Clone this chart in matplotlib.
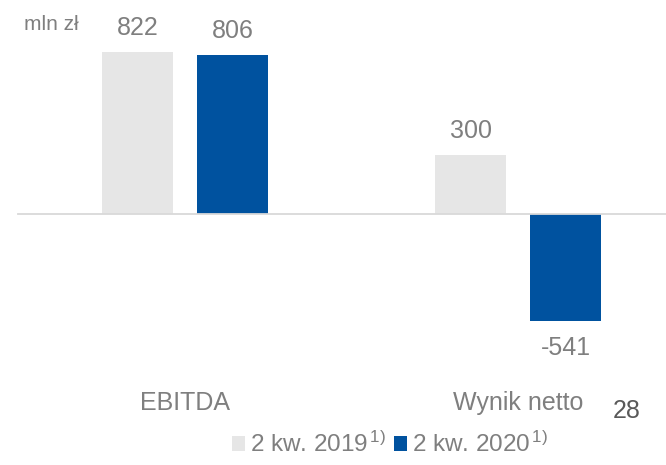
import matplotlib.pyplot as plt
import matplotlib.transforms as mtransforms
import numpy as np

# data (mln zł)
categories = ['EBITDA', 'Wynik netto']
q2_2019 = [822, 300]
q2_2020 = [806, -541]
series_labels = ['2 kw. 2019$^{\\mathrm{\\,1)}}$', '2 kw. 2020$^{\\mathrm{\\,1)}}$']
page_no = '28'

plt.rcParams['font.family'] = ['Liberation Sans', 'DejaVu Sans']
plt.rcParams['mathtext.fontset'] = 'custom'
plt.rcParams['mathtext.rm'] = 'Liberation Sans'
plt.rcParams['mathtext.it'] = 'Liberation Sans:italic'

grey_txt = '#7f7f7f'
c19 = '#e6e6e6'
c20 = '#00529f'

fig = plt.figure(figsize=(6.66, 4.65), dpi=100)
ax = fig.add_axes([0, 0, 1, 1])
ax.set_xlim(-185 / 333, 481 / 333)
ax.set_ylim(-251 / 0.1972, 214 / 0.1972)
ax.axis('off')

x = np.arange(len(categories))
w = 0.213
off = 0.1426
b1 = ax.bar(x - off, q2_2019, w, color=c19, label=series_labels[0], zorder=2)
b2 = ax.bar(x + off, q2_2020, w, color=c20, label=series_labels[1], zorder=2)

ax.axhline(0, xmin=18 / 666, xmax=1, color='#d9d9d9', lw=1.3, zorder=3)

for bars in (b1, b2):
    for rect in bars:
        v = rect.get_height()
        cx = rect.get_x() + rect.get_width() / 2
        dy = 17.5 if v >= 0 else -20
        ax.annotate(str(int(v)), (cx, v), xytext=(0, dy), textcoords='offset points',
                    ha='center', va='center', fontsize=18, color=grey_txt)

trans = mtransforms.blended_transform_factory(ax.transData, ax.transAxes)
for xi, name in zip(x, categories):
    ax.text(xi, 1 - 403 / 465, name, transform=trans, ha='center', va='center',
            fontsize=18, color=grey_txt)

fig.text(24 / 666, 1 - 25 / 465, 'mln zł', ha='left', va='center', fontsize=15, color=grey_txt)
fig.text(627 / 666, 1 - 411 / 465, page_no, ha='center', va='center', fontsize=18, color='#595959')

leg = ax.legend(loc='lower center', bbox_to_anchor=(390 / 666, -0.004), ncol=2, frameon=False,
                fontsize=17.5, handlelength=0.53, handleheight=0.53, handletextpad=0.22,
                columnspacing=0.3, borderaxespad=0)
for t in leg.get_texts():
    t.set_color(grey_txt)

fig.savefig('out.png', dpi=100)
